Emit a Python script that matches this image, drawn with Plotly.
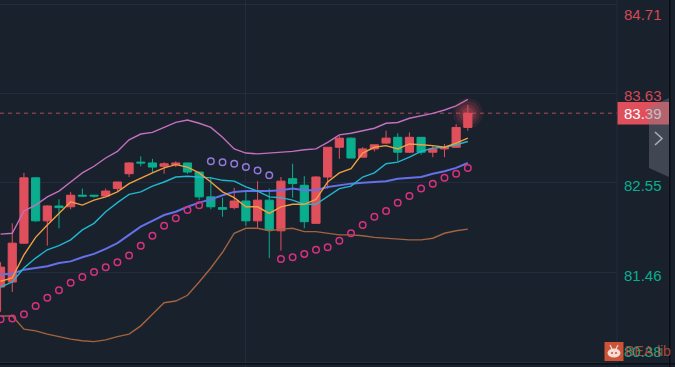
import plotly.graph_objects as go

# ---------- data ----------
index = list(range(41))
opens = [81.29,81.35,81.82,82.61,82.09,82.27,82.26,82.40,82.40,82.39,82.48,82.66,82.80,82.79,82.75,82.77,82.79,82.68,82.38,82.25,82.25,82.33,82.09,82.34,81.97,82.60,82.52,82.06,82.62,82.98,83.09,82.86,82.96,83.03,83.10,82.92,83.10,82.92,82.96,82.98,83.22]
highs = [81.59,82.06,82.67,82.62,82.28,82.35,82.44,82.48,82.40,82.48,82.56,82.80,82.87,82.84,82.80,82.81,82.79,82.68,82.62,82.37,82.49,82.44,82.57,82.48,82.62,82.78,82.63,82.63,82.98,83.12,83.10,82.98,83.01,83.18,83.15,83.16,83.10,83.00,83.02,83.26,83.49]
lows = [80.99,81.23,81.81,82.08,81.79,82.00,82.23,82.38,82.37,82.39,82.45,82.62,82.75,82.68,82.66,82.74,82.66,82.34,82.23,82.14,82.23,82.03,82.00,81.64,81.73,82.37,82.00,82.06,82.48,82.84,82.85,82.86,82.93,83.02,82.81,82.91,82.89,82.86,82.86,82.98,83.18]
closes = [81.53,81.82,82.61,82.09,82.27,82.25,82.40,82.39,82.39,82.45,82.56,82.79,82.79,82.74,82.78,82.79,82.68,82.38,82.26,82.23,82.33,82.09,82.34,81.98,82.57,82.54,82.08,82.62,82.98,83.09,82.85,82.96,83.01,83.09,82.92,83.10,82.92,82.96,82.98,83.22,83.39]
boll_upper = [81.93,81.94,82.21,82.28,82.38,82.45,82.56,82.67,82.75,82.85,82.93,83.07,83.14,83.16,83.22,83.28,83.31,83.27,83.22,83.10,82.96,82.91,82.90,82.91,82.92,82.93,82.95,82.96,83.04,83.13,83.15,83.18,83.21,83.27,83.28,83.33,83.36,83.39,83.43,83.48,83.56]
boll_mid = [81.44,81.45,81.50,81.52,81.54,81.58,81.60,81.65,81.69,81.75,81.82,81.92,82.02,82.09,82.16,82.20,82.26,82.31,82.35,82.40,82.44,82.45,82.45,82.45,82.46,82.48,82.46,82.46,82.50,82.52,82.54,82.55,82.56,82.57,82.60,82.61,82.62,82.66,82.69,82.73,82.79]
boll_lower = [80.94,80.94,80.78,80.76,80.72,80.69,80.66,80.64,80.63,80.65,80.69,80.72,80.82,80.96,81.10,81.12,81.19,81.35,81.52,81.71,81.94,82.00,82.00,81.97,81.99,82.00,81.96,81.96,81.94,81.92,81.92,81.91,81.89,81.88,81.87,81.86,81.86,81.88,81.94,81.97,81.99]
ma_fast = [81.36,81.40,81.68,81.89,82.04,82.18,82.32,82.28,82.34,82.38,82.44,82.54,82.61,82.67,82.73,82.77,82.74,82.67,82.56,82.44,82.37,82.26,82.26,82.18,82.26,82.29,82.29,82.35,82.56,82.67,82.72,82.91,82.98,83.00,82.96,83.02,83.01,83.00,82.98,83.03,83.09]
ma_slow = [81.29,81.35,81.52,81.64,81.74,81.79,81.86,81.98,82.06,82.20,82.31,82.41,82.44,82.51,82.56,82.62,82.63,82.62,82.61,82.58,82.57,82.50,82.45,82.38,82.37,82.34,82.29,82.29,82.39,82.48,82.51,82.62,82.67,82.78,82.80,82.86,82.93,82.97,82.98,83.01,83.05]
sar_low_a_x = list(range(0, 18))
sar_low_a = [80.90,80.91,80.96,81.06,81.16,81.25,81.34,81.41,81.47,81.53,81.59,81.67,81.79,81.91,82.03,82.12,82.22,82.28]
sar_high_x = list(range(18, 24))
sar_high = [82.81,82.80,82.78,82.74,82.70,82.64]
sar_low_b_x = list(range(24, 41))
sar_low_b = [81.63,81.65,81.69,81.74,81.77,81.85,81.94,82.04,82.14,82.21,82.31,82.39,82.48,82.54,82.61,82.66,82.73]
last_price = 83.39
tick_vals = [84.71, 83.63, 82.55, 81.46, 80.38]
tick_text = ["84.71", "83.63", "82.55", "81.46", "80.38"]

# ---------- style ----------
W, H = 675, 367
BG = "#19212d"
RED = "#e0505c"
GREEN = "#0aae8e"
GRID = "#222d3b"
PLOT_R = 617 / W
FONT = "Liberation Sans"
tick_colors = ["#d64855", "#d64855", GREEN, GREEN, GREEN]
tick_shift = [-10, -2, -3, -3, 11]


def px(x):
    return x / W


def py(y):
    return 1 - y / H


fig = go.Figure()
fig.add_trace(go.Candlestick(
    x=index, open=opens, high=highs, low=lows, close=closes,
    increasing=dict(line=dict(color=RED, width=1), fillcolor=RED),
    decreasing=dict(line=dict(color=GREEN, width=1), fillcolor=GREEN),
    whiskerwidth=0, hoverinfo="skip", showlegend=False))

for vals, col, w in [(boll_upper, "#c56fc0", 1.4), (boll_lower, "#a3633f", 1.4),
                     (boll_mid, "#6670e8", 2), (ma_slow, "#22b7cf", 1.4),
                     (ma_fast, "#f0a040", 1.4)]:
    fig.add_trace(go.Scatter(x=index, y=vals, mode="lines", showlegend=False,
                             line=dict(color=col, width=w), hoverinfo="skip"))

for xs, ys, col in [(sar_low_a_x, sar_low_a, "#d9307f"), (sar_low_b_x, sar_low_b, "#d9307f"),
                    (sar_high_x, sar_high, "#9478dc")]:
    fig.add_trace(go.Scatter(x=xs, y=ys, mode="markers", showlegend=False, hoverinfo="skip",
                             marker=dict(symbol="circle-open", size=6.5, color=col,
                                         line=dict(color=col, width=1.5))))

for size, op in [(30, 0.1), (24, 0.14), (18, 0.18), (12, 0.25)]:
    fig.add_trace(go.Scatter(x=[index[-1]], y=[last_price], mode="markers", showlegend=False,
                             hoverinfo="skip",
                             marker=dict(size=size, color=RED, opacity=op, line=dict(width=0))))

shapes = [
    dict(type="line", xref="paper", yref="y", x0=0, x1=PLOT_R, y0=last_price, y1=last_price,
         line=dict(color="#7a3f4b", width=1.5, dash="4px,4px"), layer="below"),
    dict(type="line", xref="paper", yref="paper", x0=PLOT_R, x1=PLOT_R, y0=0, y1=1,
         line=dict(color=GRID, width=1)),
    dict(type="rect", xref="paper", yref="paper", x0=px(617.5), x1=px(669), y0=py(124.5), y1=py(102),
         fillcolor=RED, line=dict(width=0)),
    dict(type="path", xref="paper", yref="paper",
         path=f"M {px(649)} {py(107)} L {px(669)} {py(98)} L {px(669)} {py(177)} L {px(649)} {py(168)} Z",
         fillcolor="rgba(120,125,135,0.42)", line=dict(width=0)),
    dict(type="path", xref="paper", yref="paper",
         path=f"M {px(655)} {py(132)} L {px(662)} {py(138.5)} L {px(655)} {py(145)}",
         line=dict(color="#a8acb4", width=1.6)),
    dict(type="rect", xref="paper", yref="paper", x0=px(669), x1=px(670.5), y0=0, y1=1,
         fillcolor="#0b0f14", line=dict(width=0)),
    dict(type="rect", xref="paper", yref="paper", x0=0, x1=1, y0=py(364.5), y1=py(363),
         fillcolor="#0b0f14", line=dict(width=0)),
    dict(type="rect", xref="paper", yref="paper", x0=px(604.5), x1=px(623.5), y0=py(361), y1=py(342),
         fillcolor="#cc5238", line=dict(width=0)),
    dict(type="circle", xref="paper", yref="paper", x0=px(607.5), x1=px(620.5), y0=py(357.5), y1=py(348.5),
         fillcolor="#f3dcd4", line=dict(width=0)),
    dict(type="circle", xref="paper", yref="paper", x0=px(611), x1=px(613), y0=py(354), y1=py(352),
         fillcolor="#cc5238", line=dict(width=0)),
    dict(type="circle", xref="paper", yref="paper", x0=px(615), x1=px(617), y0=py(354), y1=py(352),
         fillcolor="#cc5238", line=dict(width=0)),
    dict(type="path", xref="paper", yref="paper",
         path=f"M {px(610)} {py(345)} L {px(612)} {py(349)} M {px(618)} {py(345)} L {px(616)} {py(349)}",
         line=dict(color="#f3dcd4", width=1.2)),
]

annotations = [
    dict(xref="paper", yref="y", x=px(621.5), y=v, text=t, showarrow=False, xanchor="left",
         yanchor="middle", yshift=s, font=dict(family=FONT, size=15, color=c))
    for v, t, c, s in zip(tick_vals, tick_text, tick_colors, tick_shift)
]
annotations.append(dict(xref="paper", yref="y", x=px(621.5), y=last_price, showarrow=False,
                        xanchor="left", yanchor="middle",
                        text='83.<span style="color:#c4bfc2">39</span>',
                        font=dict(family=FONT, size=15, color="#ffffff")))
annotations.append(dict(xref="paper", yref="paper", x=px(622.5), y=py(351), showarrow=False,
                        xanchor="left", yanchor="middle",
                        text="BEA.lib", font=dict(family=FONT, size=14, color="rgba(205,85,60,0.8)")))

fig.update_layout(
    width=W, height=H, margin=dict(l=0, r=0, t=0, b=0),
    paper_bgcolor=BG, plot_bgcolor=BG, showlegend=False, boxgap=0.3, boxgroupgap=0,
    shapes=shapes, annotations=annotations,
    xaxis=dict(domain=[0, PLOT_R], range=[-0.05, 52.77], rangeslider=dict(visible=False),
               tickvals=[21], showticklabels=False, ticks="", showgrid=True, gridcolor=GRID,
               gridwidth=1, zeroline=False, showline=False),
    yaxis=dict(range=[80.3226, 84.7606], tickvals=tick_vals, showticklabels=False, ticks="",
               showgrid=True, gridcolor=GRID, gridwidth=1, zeroline=False, showline=False),
)
fig.write_html("out.html", config=dict(displayModeBar=False),
               post_script="document.body.style.margin='0';document.body.style.background='%s';" % BG)
